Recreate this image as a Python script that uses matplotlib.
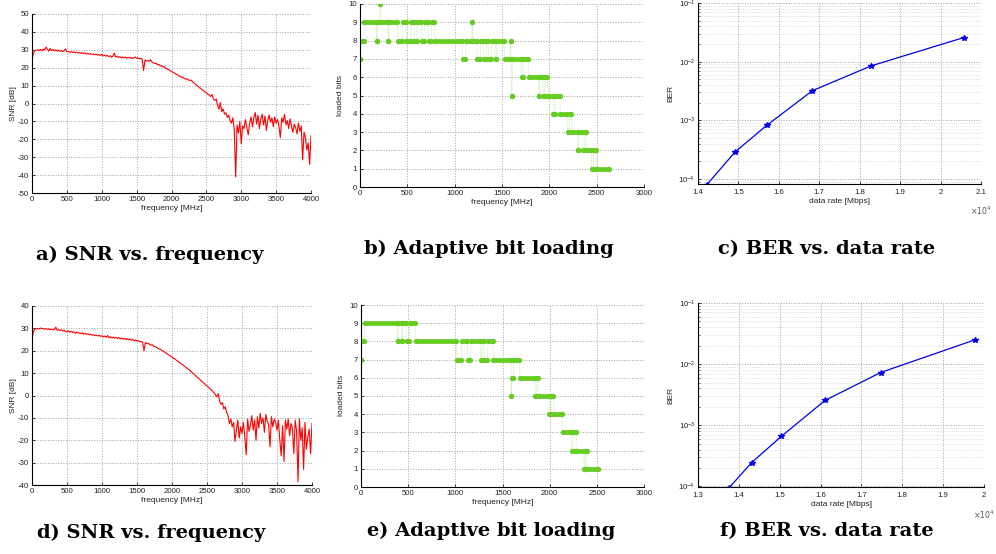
import matplotlib

matplotlib.use("Agg")
import matplotlib.pyplot as plt
import numpy as np
from matplotlib.ticker import MultipleLocator, FuncFormatter, LogLocator, NullFormatter

plt.rcParams["font.family"] = ["Liberation Sans", "DejaVu Sans"]
plt.rcParams["axes.unicode_minus"] = False

W, H = 996, 554

# --- data ---
freq_step = 20  # MHz between SNR samples
snr_freq = np.arange(0, 4001, freq_step)

snr_top = [
    24.0, 28.0, 29.5, 29.8, 30.0, 29.6, 30.2, 29.5, 30.4, 29.8,
    31.5, 30.3, 29.2, 30.8, 29.6, 30.2, 29.4, 30.0, 29.3, 29.9,
    29.1, 29.6, 29.0, 29.5, 30.5, 28.9, 29.0, 28.6, 28.9, 28.5,
    28.8, 28.3, 28.7, 28.2, 28.5, 28.0, 28.4, 27.8, 28.3, 27.6,
    28.0, 27.5, 27.9, 27.3, 27.7, 27.2, 27.6, 27.0, 27.4, 26.8,
    27.5, 26.6, 27.0, 26.4, 26.9, 26.2, 26.7, 25.8, 26.5, 28.2,
    26.0, 26.4, 25.7, 26.2, 25.5, 26.0, 25.6, 25.9, 25.3, 25.8,
    25.4, 25.7, 25.1, 25.6, 26.0, 25.2, 25.5, 24.9, 25.3, 24.6,
    18.5, 24.3, 23.8, 24.0, 23.6, 24.5, 23.1, 22.8, 22.3, 22.5,
    21.6, 21.8, 20.9, 21.2, 20.3, 20.6, 19.6, 19.2, 18.9, 18.3,
    18.0, 17.4, 17.1, 16.5, 16.2, 15.6, 15.3, 14.6, 14.8, 14.0,
    13.6, 13.9, 13.2, 12.9, 13.1, 12.2, 11.5, 10.9, 10.2, 9.7,
    8.8, 8.4, 7.6, 7.2, 6.5, 6.0, 5.2, 4.8, 3.9, 5.0,
    2.6, 1.8, 2.5, -1.0, -3.2, 0.5, -4.5, -3.0, -6.0, -5.2,
    -7.8, -6.5, -9.5, -11.0, -8.0, -15.0, -41.0, -12.0, -16.5, -10.0,
    -22.5, -12.5, -14.0, -9.0, -13.5, -17.5, -11.0, -7.5, -13.0, -8.0,
    -5.0, -11.5, -6.5, -14.0, -8.5, -6.0, -12.0, -7.0, -15.0, -9.5,
    -6.5, -10.5, -8.0, -13.0, -7.5, -11.0, -9.0, -12.5, -19.0, -8.0,
    -10.5, -6.0, -12.0, -9.5, -14.0, -8.5, -12.5, -16.0, -11.5, -13.5,
    -17.0, -11.0, -15.5, -12.5, -31.5, -16.0, -19.0, -26.0, -22.0, -34.0,
    -18.0,
]

snr_bottom = [
    25.0, 28.5, 29.6, 29.8, 30.0, 29.7, 30.2, 29.9, 30.0, 29.6,
    29.9, 29.5, 29.8, 29.4, 29.7, 29.3, 29.6, 30.5, 29.2, 29.5,
    29.0, 29.4, 28.8, 29.2, 28.6, 28.4, 28.9, 28.3, 28.7, 28.2,
    28.5, 27.8, 28.3, 28.0, 27.9, 27.6, 28.0, 27.4, 27.8, 27.3,
    27.6, 27.1, 27.4, 26.9, 27.2, 26.7, 27.0, 26.6, 26.9, 26.4,
    26.7, 26.2, 26.6, 26.0, 26.8, 25.8, 26.3, 25.7, 26.1, 25.6,
    26.0, 25.5, 25.9, 25.3, 25.7, 25.2, 25.6, 25.0, 25.4, 24.9,
    25.3, 24.7, 25.1, 24.5, 24.8, 24.3, 24.6, 24.0, 24.2, 23.9,
    20.0, 23.7, 23.2, 23.4, 22.8, 22.5, 22.7, 22.0, 21.8, 21.5,
    21.1, 20.8, 20.5, 20.0, 19.8, 19.2, 18.9, 18.4, 18.0, 17.6,
    17.2, 16.7, 16.4, 15.8, 15.4, 14.9, 14.5, 13.9, 13.6, 13.0,
    12.6, 12.0, 11.6, 11.0, 10.5, 9.9, 9.4, 8.8, 8.2, 7.7,
    7.1, 6.5, 5.9, 5.4, 4.7, 4.2, 3.8, 3.0, 2.6, 1.9,
    1.2, 0.4, -0.6, 0.8, -2.5, -4.0, -3.2, -6.0, -5.0, -7.5,
    -9.0, -12.5, -10.5, -14.0, -12.0, -20.5, -15.5, -11.0, -19.0, -14.0,
    -17.0, -12.0, -18.5, -26.5, -10.5, -16.0, -13.5, -9.0, -15.5, -11.0,
    -20.0, -9.5, -14.5, -8.0, -12.5, -10.0, -16.5, -8.5, -11.5, -13.0,
    -23.0, -9.5, -14.0, -10.5, -12.0, -15.5, -11.0, -20.0, -27.0, -13.5,
    -29.5, -11.0, -15.0, -10.5, -18.0, -12.5, -14.5, -26.0, -11.0, -16.0,
    -38.5, -10.5, -20.0, -14.5, -33.0, -12.0, -24.0, -18.5, -15.0, -26.0,
    -12.5,
]

# bit loading runs: first / last subcarrier frequency [MHz] and bits
bits_top_start = [5, 12, 45, 176, 184, 214, 222, 300, 308, 402, 450, 488, 542, 575,
                  602, 655, 682, 725, 757, 792, 1085, 1118, 1186, 1192, 1240, 1275,
                  1306, 1336, 1358, 1390, 1432, 1446, 1528, 1591, 1604, 1612, 1706,
                  1724, 1782, 1893, 1900, 1936, 1956, 1986, 2044, 2064, 2116, 2192,
                  2216, 2238, 2307, 2314, 2356, 2376, 2398, 2448, 2468, 2496]
bits_top_end = [5, 38, 170, 176, 205, 214, 292, 300, 395, 440, 482, 535, 570, 598,
                648, 675, 718, 750, 785, 1080, 1112, 1180, 1186, 1232, 1268, 1300,
                1330, 1352, 1385, 1425, 1440, 1522, 1585, 1591, 1604, 1700, 1718,
                1776, 1888, 1893, 1930, 1950, 1980, 2038, 2058, 2110, 2186, 2210,
                2232, 2300, 2307, 2350, 2370, 2392, 2442, 2462, 2490, 2630]
bits_top = [7, 8, 9, 8, 9, 10, 9, 8, 9, 8, 9, 8, 9, 8,
            9, 8, 9, 8, 9, 8, 7, 8, 9, 8, 7, 8,
            7, 8, 7, 8, 7, 8, 7, 8, 5, 7, 6,
            7, 6, 5, 6, 5, 6, 5, 4, 5, 4, 3,
            4, 3, 2, 3, 2, 3, 2, 1, 2, 1]

bits_bot_start = [4, 10, 38, 390, 398, 438, 445, 486, 516, 582, 1016, 1068, 1134,
                  1166, 1268, 1284, 1306, 1346, 1404, 1595, 1600, 1618, 1686, 1848,
                  1866, 1886, 1998, 2016, 2046, 2140, 2234, 2250, 2284, 2368, 2382, 2398]
bits_bot_end = [4, 30, 385, 390, 432, 438, 480, 510, 575, 1010, 1062, 1128, 1160,
                1262, 1278, 1300, 1340, 1398, 1590, 1595, 1612, 1680, 1842, 1860,
                1880, 1992, 2010, 2040, 2135, 2228, 2244, 2278, 2362, 2376, 2392, 2515]
bits_bot = [7, 8, 9, 8, 9, 8, 9, 8, 9, 8, 7, 8, 7,
            8, 7, 8, 7, 8, 7, 5, 6, 7, 6, 5,
            6, 5, 4, 5, 4, 3, 2, 3, 2, 1, 2, 1]

rate_top = [14220, 14920, 15700, 16830, 18290, 20570]
ber_top = [8.0e-5, 2.9e-4, 8.2e-4, 3.2e-3, 8.5e-3, 2.57e-2]
rate_bot = [13760, 14310, 15040, 16110, 17470, 19770]
ber_bot = [9.5e-5, 2.45e-4, 6.6e-4, 2.56e-3, 7.3e-3, 2.49e-2]

captions = ["a) SNR vs. frequency", "b) Adaptive bit loading", "c) BER vs. data rate",
            "d) SNR vs. frequency", "e) Adaptive bit loading", "f) BER vs. data rate"]

GREEN = "#66cc22"
FS = 5.6


def rect(l, r, t, b):
    return [l / W, (H - b) / H, (r - l) / W, (b - t) / H]


def style(ax):
    for s in ("top", "right"):
        ax.spines[s].set_visible(False)
    for s in ("left", "bottom"):
        ax.spines[s].set_linewidth(0.8)
    ax.tick_params(direction="in", length=2.5, width=0.6, labelsize=FS,
                   colors="#222222", pad=2)
    ax.grid(True, which="major", color="#a0a0a0", ls=":", lw=0.7)
    ax.set_axisbelow(True)


def snr_panel(ax, y, ylim):
    ax.plot(snr_freq, y, color="red", lw=0.8)
    ax.set_xlim(0, 4000)
    ax.set_ylim(*ylim)
    ax.xaxis.set_major_locator(MultipleLocator(500))
    ax.yaxis.set_major_locator(MultipleLocator(10))
    ax.set_xlabel("frequency [MHz]", fontsize=FS + 0.4, labelpad=1.5, color="#222222")
    ax.set_ylabel("SNR [dB]", fontsize=FS + 0.4, labelpad=1, color="#222222")
    style(ax)


def bits_panel(ax, starts, ends, bits):
    xs, ys = [], []
    for s, e, b in zip(starts, ends, bits):
        xs += [s, e]
        ys += [b, b]
    ax.plot(xs, ys, ls=":", color="#a6e68a", lw=0.6)
    ax.hlines(bits, starts, ends, color=GREEN, lw=3.4)
    ax.plot(starts, bits, "o", color=GREEN, ms=3.8, mew=0)
    ax.plot(ends, bits, "o", color=GREEN, ms=3.8, mew=0)
    ax.set_xlim(0, 3000)
    ax.set_ylim(0, 10)
    ax.xaxis.set_major_locator(MultipleLocator(500))
    ax.yaxis.set_major_locator(MultipleLocator(1))
    ax.set_xlabel("frequency [MHz]", fontsize=FS + 0.4, labelpad=1.5, color="#222222")
    ax.set_ylabel("loaded bits", fontsize=FS + 0.4, labelpad=3, color="#222222")
    style(ax)


def ber_panel(ax, rate, ber, xlim, ylim):
    ax.semilogy(rate, ber, "-*", color="#0000ee", lw=0.9, ms=4)
    ax.set_xlim(*xlim)
    ax.set_ylim(*ylim)
    ax.xaxis.set_major_locator(MultipleLocator(1000))
    ax.xaxis.set_major_formatter(FuncFormatter(lambda v, _: f"{v / 1e4:g}"))
    ax.yaxis.set_major_locator(LogLocator(base=10, numticks=10))
    ax.yaxis.set_minor_locator(LogLocator(base=10, subs=np.arange(2, 10), numticks=10))
    ax.yaxis.set_minor_formatter(NullFormatter())
    ax.set_xlabel("data rate [Mbps]", fontsize=FS + 0.4, labelpad=1.5, color="#222222")
    ax.set_ylabel("BER", fontsize=FS + 0.4, labelpad=3, color="#222222")
    style(ax)
    ax.grid(True, which="minor", axis="y", color="#c8c8c8", ls=":", lw=0.5)
    ax.tick_params(which="minor", direction="in", length=1.5, width=0.4)
    ax.tick_params(axis="x", pad=3.5)
    ax.text(1.0, -0.115, r"$\times10^{4}$", transform=ax.transAxes, ha="center",
            va="top", fontsize=FS, color="#555555")


fig = plt.figure(figsize=(W / 100, H / 100), dpi=100)

ax_a = fig.add_axes(rect(32, 311, 14, 193))
snr_panel(ax_a, snr_top, (-50, 50))
ax_b = fig.add_axes(rect(360, 644, 4, 187))
bits_panel(ax_b, bits_top_start, bits_top_end, bits_top)
ax_c = fig.add_axes(rect(698, 981, 3, 184))
ber_panel(ax_c, rate_top, ber_top, (14000, 21000), (8.2e-5, 0.1))

ax_d = fig.add_axes(rect(32, 312, 306, 485))
snr_panel(ax_d, snr_bottom, (-40, 40))
ax_e = fig.add_axes(rect(361, 644, 305, 487))
bits_panel(ax_e, bits_bot_start, bits_bot_end, bits_bot)
ax_f = fig.add_axes(rect(698, 984, 303, 487))
ber_panel(ax_f, rate_bot, ber_bot, (13000, 20000), (9.8e-5, 0.1))

cap_pos = [(150, 255), (489, 249), (827, 249), (151, 533), (491, 531), (827, 531)]
for (cx, cy), txt in zip(cap_pos, captions):
    fig.text(cx / W, 1 - cy / H, txt, ha="center", va="center", fontsize=14,
             fontweight="bold", family=["DejaVu Serif"])

fig.savefig("out.png", dpi=100)
